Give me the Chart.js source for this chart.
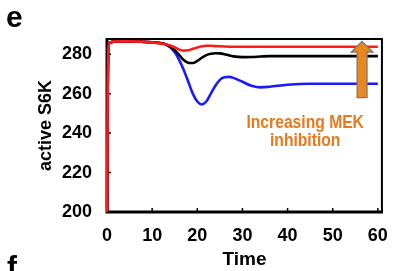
<!DOCTYPE html>
<html>
<head>
<meta charset="utf-8">
<script src="https://cdn.jsdelivr.net/npm/chart.js@4.4.0/dist/chart.umd.min.js"></script>
<style>
  html, body { margin: 0; padding: 0; background: #fff; }
  #wrap { width: 393px; height: 271px; }
</style>
</head>
<body>
<div id="wrap"><canvas id="chartCanvas"></canvas></div>
<script>
// 시간축 (Time)
const times = [0, 0.15, 0.5, 2, 5, 10, 13, 15, 16, 17, 18, 19, 20, 21, 22, 23, 24, 25, 26, 27, 28, 30, 32, 34, 36, 40, 45, 50, 55, 60];

// 억제 강도별 active S6K 값
const redValues   = [200, 262, 285.5, 286.5, 286.5, 286, 285, 283.5, 282.3, 281.8, 282, 282.7, 283.4, 284, 284.3, 284.3, 284.1, 284, 283.9, 283.8, 283.8, 283.8, 283.8, 283.8, 283.8, 283.8, 283.8, 283.8, 283.8, 283.8];
const blackValues = [200, 262, 285.5, 286.5, 286.5, 286, 285, 282, 279.5, 277, 275.6, 275.5, 276.6, 278.2, 279.5, 280.2, 280.5, 280.4, 280, 279.4, 278.9, 278.5, 278.6, 278.8, 279, 279, 279, 279, 279, 279];
const blueValues  = [200, 262, 285.5, 286.5, 286.5, 286, 285, 281, 277, 272, 266, 260, 256, 254.5, 256, 260, 264, 267, 268.3, 268.5, 268, 266, 264, 263.2, 263.5, 264.5, 265, 265, 265, 265];

const xTicks = [0, 10, 20, 30, 40, 50, 60];
const yTicks = [200, 220, 240, 260, 280];

const ORANGE = '#e67a1c';
const FONT = '"Liberation Sans", Arial, sans-serif';

function toPoints(vals) {
  return times.map((t, i) => ({ x: t, y: vals[i] }));
}

// 테두리, 안쪽 눈금, 화살표, 글자를 그리는 플러그인
const decorPlugin = {
  id: 'decor',
  afterDatasetsDraw(chart) {
    const ctx = chart.ctx;
    const { left, right, top, bottom } = chart.chartArea;
    const xs = chart.scales.x, ys = chart.scales.y;
    ctx.save();

    // 화살표 (Increasing MEK inhibition)
    const ax = xs.getPixelForValue(56.5);
    const tipY = ys.getPixelForValue(286.5);
    const headY = ys.getPixelForValue(281);
    const baseY = ys.getPixelForValue(258);
    ctx.beginPath();
    ctx.moveTo(ax, tipY);
    ctx.lineTo(ax + 11, headY);
    ctx.lineTo(ax + 5, headY);
    ctx.lineTo(ax + 5, baseY);
    ctx.lineTo(ax - 5, baseY);
    ctx.lineTo(ax - 5, headY);
    ctx.lineTo(ax - 11, headY);
    ctx.closePath();
    ctx.fillStyle = '#e8871e';
    ctx.fill();
    ctx.strokeStyle = '#7a7a7a';
    ctx.lineWidth = 1.2;
    ctx.stroke();

    // 주석 텍스트
    ctx.fillStyle = ORANGE;
    ctx.font = 'bold 18px ' + FONT;
    ctx.textAlign = 'center';
    ctx.textBaseline = 'alphabetic';
    const cx = xs.getPixelForValue(43.9);
    [['Increasing MEK', 128], ['inhibition', 146]].forEach(([txt, y]) => {
      ctx.save();
      ctx.translate(cx, y);
      ctx.scale(0.87, 1);
      ctx.fillText(txt, 0, 0);
      ctx.restore();
    });

    // 테두리
    ctx.strokeStyle = '#000';
    ctx.lineWidth = 2;
    ctx.strokeRect(left, top, right - left, bottom - top);
    ctx.lineWidth = 3;
    ctx.beginPath();
    ctx.moveTo(left, top - 1);
    ctx.lineTo(left, bottom);
    ctx.lineTo(right + 1, bottom);
    ctx.stroke();

    // 안쪽 눈금
    ctx.lineWidth = 1.5;
    ctx.beginPath();
    xTicks.forEach(v => {
      const px = xs.getPixelForValue(v);
      ctx.moveTo(px, bottom);
      ctx.lineTo(px, bottom - 4);
    });
    yTicks.forEach(v => {
      const py = ys.getPixelForValue(v);
      ctx.moveTo(left, py);
      ctx.lineTo(left + 4, py);
    });
    ctx.stroke();

    // 빨간 선은 왼쪽 축 위에 겹쳐 보인다
    ctx.restore();
    ctx.save();
    ctx.beginPath();
    ctx.rect(left - 2, top, 6, bottom - top);
    ctx.clip();
    const redMeta = chart.getDatasetMeta(0);
    redMeta.dataset.draw(ctx, { left: left - 2, right: left + 4, top, bottom });
    ctx.restore();

    // 패널 글자
    ctx.save();
    ctx.fillStyle = '#000';
    ctx.font = 'bold 30px ' + FONT;
    ctx.textAlign = 'left';
    ctx.fillText('e', 6, 27);
    ctx.fillText('f', 7, 277);
    ctx.restore();
  }
};

const ctx = document.getElementById('chartCanvas').getContext('2d');
// 첫 번째 데이터셋이 가장 위에 그려진다 (빨강 > 검정 > 파랑)
window.currentChart = new Chart(ctx, {
  type: 'line',
  data: {
    datasets: [
      { label: 'red', data: toPoints(redValues), borderColor: '#ff1a1a' },
      { label: 'black', data: toPoints(blackValues), borderColor: '#000000' },
      { label: 'blue', data: toPoints(blueValues), borderColor: '#1a1aff' }
    ].map(d => Object.assign(d, {
      borderWidth: 2.6,
      pointRadius: 0,
      fill: false,
      cubicInterpolationMode: 'monotone'
    }))
  },
  options: {
    responsive: true,
    maintainAspectRatio: false,
    animation: false,
    layout: { padding: { top: 39, right: 8, left: 0, bottom: 0 } },
    plugins: { legend: { display: false }, tooltip: { enabled: false } },
    scales: {
      x: {
        type: 'linear',
        min: 0,
        max: 60.9,
        afterBuildTicks: s => { s.ticks = xTicks.map(v => ({ value: v })); },
        afterFit: s => { s.height = 59; },
        grid: { display: false },
        border: { display: false },
        ticks: { color: '#000', font: { family: FONT, size: 18, weight: 'bold' }, padding: 5, maxRotation: 0 },
        title: { display: true, text: 'Time', color: '#000', font: { family: FONT, size: 19, weight: 'bold' }, padding: { top: 0, bottom: 0 } }
      },
      y: {
        type: 'linear',
        min: 200,
        max: 287.7,
        afterBuildTicks: s => { s.ticks = yTicks.map(v => ({ value: v })); },
        afterFit: s => { s.width = 107; },
        grid: { display: false },
        border: { display: false },
        ticks: { color: '#000', font: { family: FONT, size: 18, weight: 'bold' }, padding: 7 },
        title: { display: true, text: 'active S6K', color: '#000', font: { family: FONT, size: 18, weight: 'bold' }, padding: { top: 35, bottom: 0 } }
      }
    }
  },
  plugins: [decorPlugin]
});
</script>
</body>
</html>
